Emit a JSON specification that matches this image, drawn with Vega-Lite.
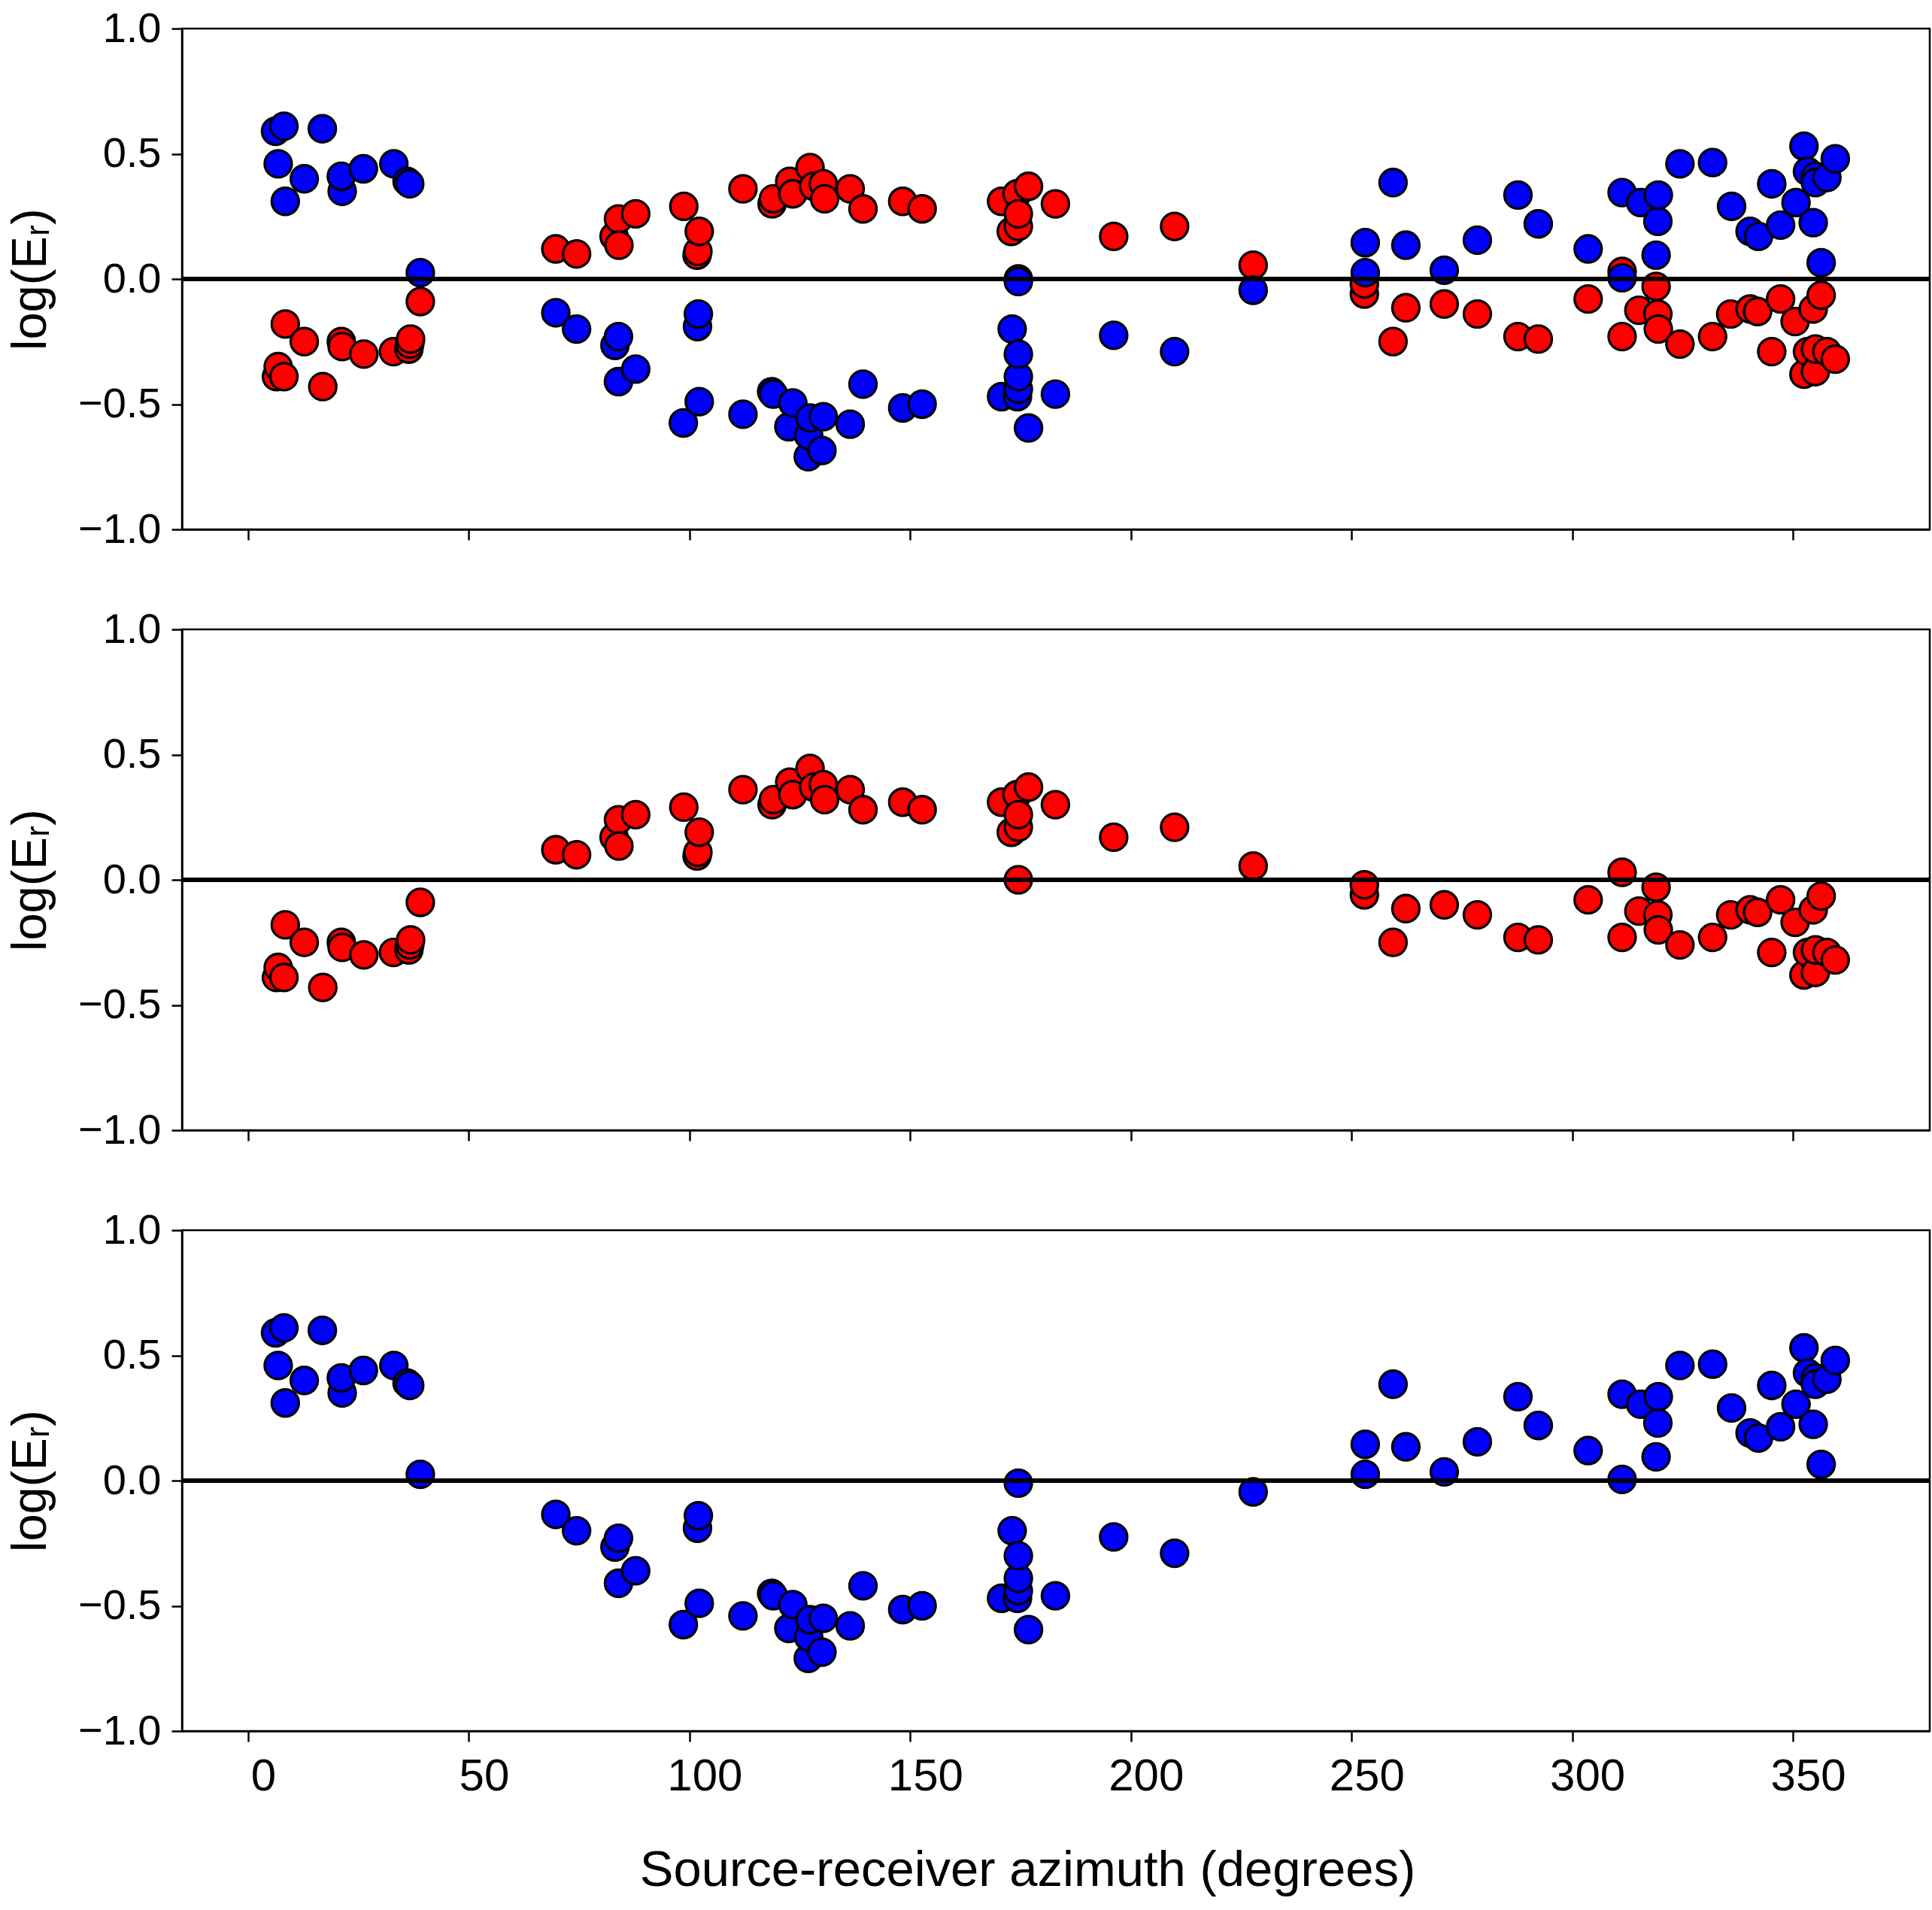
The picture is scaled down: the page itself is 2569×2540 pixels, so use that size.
{
  "$schema": "https://vega.github.io/schema/vega-lite/v6.json",
  "padding": {"left": 7, "top": 8, "right": 5, "bottom": 5},
  "background": "white",
  "spacing": 133,
  "bounds": "flush",
  "datasets": {
    "pts": [
      {"az": 6.4, "logER": -0.39, "series": "red"},
      {"az": 6.8, "logER": -0.35, "series": "red"},
      {"az": 8.1, "logER": -0.39, "series": "red"},
      {"az": 8.4, "logER": -0.18, "series": "red"},
      {"az": 12.7, "logER": -0.25, "series": "red"},
      {"az": 16.9, "logER": -0.43, "series": "red"},
      {"az": 21.1, "logER": -0.25, "series": "red"},
      {"az": 21.3, "logER": -0.27, "series": "red"},
      {"az": 26.2, "logER": -0.3, "series": "red"},
      {"az": 32.9, "logER": -0.29, "series": "red"},
      {"az": 36.4, "logER": -0.28, "series": "red"},
      {"az": 36.6, "logER": -0.26, "series": "red"},
      {"az": 36.8, "logER": -0.24, "series": "red"},
      {"az": 39.0, "logER": -0.09, "series": "red"},
      {"az": 69.7, "logER": 0.12, "series": "red"},
      {"az": 74.4, "logER": 0.1, "series": "red"},
      {"az": 82.9, "logER": 0.17, "series": "red"},
      {"az": 83.9, "logER": 0.24, "series": "red"},
      {"az": 84.0, "logER": 0.135, "series": "red"},
      {"az": 87.8, "logER": 0.26, "series": "red"},
      {"az": 98.7, "logER": 0.29, "series": "red"},
      {"az": 101.7, "logER": 0.095, "series": "red"},
      {"az": 101.9, "logER": 0.11, "series": "red"},
      {"az": 102.2, "logER": 0.19, "series": "red"},
      {"az": 112.1, "logER": 0.36, "series": "red"},
      {"az": 118.7, "logER": 0.3, "series": "red"},
      {"az": 119.0, "logER": 0.32, "series": "red"},
      {"az": 122.7, "logER": 0.39, "series": "red"},
      {"az": 123.4, "logER": 0.34, "series": "red"},
      {"az": 127.3, "logER": 0.445, "series": "red"},
      {"az": 128.1, "logER": 0.37, "series": "red"},
      {"az": 130.3, "logER": 0.38, "series": "red"},
      {"az": 130.6, "logER": 0.32, "series": "red"},
      {"az": 136.4, "logER": 0.36, "series": "red"},
      {"az": 139.3, "logER": 0.28, "series": "red"},
      {"az": 148.3, "logER": 0.31, "series": "red"},
      {"az": 152.7, "logER": 0.28, "series": "red"},
      {"az": 170.7, "logER": 0.31, "series": "red"},
      {"az": 172.9, "logER": 0.19, "series": "red"},
      {"az": 174.2, "logER": 0.34, "series": "red"},
      {"az": 174.5, "logER": 0.21, "series": "red"},
      {"az": 174.5, "logER": 0.26, "series": "red"},
      {"az": 174.5, "logER": 0.0, "series": "red"},
      {"az": 176.8, "logER": 0.37, "series": "red"},
      {"az": 182.9, "logER": 0.3, "series": "red"},
      {"az": 196.1, "logER": 0.17, "series": "red"},
      {"az": 209.9, "logER": 0.21, "series": "red"},
      {"az": 227.7, "logER": 0.055, "series": "red"},
      {"az": 252.9, "logER": -0.06, "series": "red"},
      {"az": 252.9, "logER": -0.02, "series": "red"},
      {"az": 259.4, "logER": -0.25, "series": "red"},
      {"az": 262.3, "logER": -0.115, "series": "red"},
      {"az": 271.0, "logER": -0.1, "series": "red"},
      {"az": 278.5, "logER": -0.14, "series": "red"},
      {"az": 287.7, "logER": -0.23, "series": "red"},
      {"az": 292.3, "logER": -0.24, "series": "red"},
      {"az": 303.6, "logER": -0.08, "series": "red"},
      {"az": 311.3, "logER": 0.03, "series": "red"},
      {"az": 311.3, "logER": -0.23, "series": "red"},
      {"az": 315.1, "logER": -0.125, "series": "red"},
      {"az": 319.0, "logER": -0.03, "series": "red"},
      {"az": 319.4, "logER": -0.14, "series": "red"},
      {"az": 319.5, "logER": -0.2, "series": "red"},
      {"az": 324.4, "logER": -0.26, "series": "red"},
      {"az": 331.8, "logER": -0.23, "series": "red"},
      {"az": 335.9, "logER": -0.14, "series": "red"},
      {"az": 340.3, "logER": -0.12, "series": "red"},
      {"az": 342.0, "logER": -0.13, "series": "red"},
      {"az": 345.2, "logER": -0.29, "series": "red"},
      {"az": 347.2, "logER": -0.08, "series": "red"},
      {"az": 350.5, "logER": -0.17, "series": "red"},
      {"az": 352.5, "logER": -0.38, "series": "red"},
      {"az": 353.3, "logER": -0.29, "series": "red"},
      {"az": 354.6, "logER": -0.12, "series": "red"},
      {"az": 355.1, "logER": -0.37, "series": "red"},
      {"az": 355.1, "logER": -0.28, "series": "red"},
      {"az": 356.4, "logER": -0.065, "series": "red"},
      {"az": 357.7, "logER": -0.29, "series": "red"},
      {"az": 359.6, "logER": -0.32, "series": "red"},
      {"az": 6.2, "logER": 0.59, "series": "blue"},
      {"az": 6.8, "logER": 0.46, "series": "blue"},
      {"az": 8.1, "logER": 0.61, "series": "blue"},
      {"az": 8.4, "logER": 0.31, "series": "blue"},
      {"az": 12.7, "logER": 0.4, "series": "blue"},
      {"az": 16.8, "logER": 0.6, "series": "blue"},
      {"az": 21.3, "logER": 0.35, "series": "blue"},
      {"az": 21.1, "logER": 0.41, "series": "blue"},
      {"az": 26.1, "logER": 0.44, "series": "blue"},
      {"az": 33.0, "logER": 0.46, "series": "blue"},
      {"az": 36.0, "logER": 0.39, "series": "blue"},
      {"az": 36.6, "logER": 0.38, "series": "blue"},
      {"az": 39.0, "logER": 0.025, "series": "blue"},
      {"az": 69.7, "logER": -0.135, "series": "blue"},
      {"az": 74.4, "logER": -0.2, "series": "blue"},
      {"az": 83.1, "logER": -0.265, "series": "blue"},
      {"az": 83.9, "logER": -0.23, "series": "blue"},
      {"az": 83.9, "logER": -0.41, "series": "blue"},
      {"az": 87.8, "logER": -0.36, "series": "blue"},
      {"az": 98.6, "logER": -0.575, "series": "blue"},
      {"az": 101.8, "logER": -0.19, "series": "blue"},
      {"az": 102.0, "logER": -0.14, "series": "blue"},
      {"az": 102.2, "logER": -0.49, "series": "blue"},
      {"az": 112.1, "logER": -0.54, "series": "blue"},
      {"az": 118.6, "logER": -0.45, "series": "blue"},
      {"az": 119.0, "logER": -0.46, "series": "blue"},
      {"az": 122.5, "logER": -0.59, "series": "blue"},
      {"az": 123.4, "logER": -0.495, "series": "blue"},
      {"az": 126.9, "logER": -0.71, "series": "blue"},
      {"az": 127.0, "logER": -0.625, "series": "blue"},
      {"az": 127.3, "logER": -0.555, "series": "blue"},
      {"az": 130.0, "logER": -0.685, "series": "blue"},
      {"az": 130.3, "logER": -0.55, "series": "blue"},
      {"az": 136.4, "logER": -0.58, "series": "blue"},
      {"az": 139.3, "logER": -0.42, "series": "blue"},
      {"az": 148.3, "logER": -0.515, "series": "blue"},
      {"az": 152.7, "logER": -0.5, "series": "blue"},
      {"az": 170.7, "logER": -0.47, "series": "blue"},
      {"az": 173.1, "logER": -0.2, "series": "blue"},
      {"az": 174.3, "logER": -0.47, "series": "blue"},
      {"az": 174.5, "logER": -0.44, "series": "blue"},
      {"az": 174.5, "logER": -0.39, "series": "blue"},
      {"az": 174.5, "logER": -0.3, "series": "blue"},
      {"az": 174.5, "logER": -0.01, "series": "blue"},
      {"az": 176.8, "logER": -0.595, "series": "blue"},
      {"az": 182.9, "logER": -0.46, "series": "blue"},
      {"az": 196.1, "logER": -0.225, "series": "blue"},
      {"az": 209.9, "logER": -0.29, "series": "blue"},
      {"az": 227.7, "logER": -0.045, "series": "blue"},
      {"az": 253.1, "logER": 0.145, "series": "blue"},
      {"az": 253.1, "logER": 0.025, "series": "blue"},
      {"az": 259.4, "logER": 0.385, "series": "blue"},
      {"az": 262.3, "logER": 0.135, "series": "blue"},
      {"az": 271.0, "logER": 0.035, "series": "blue"},
      {"az": 278.5, "logER": 0.155, "series": "blue"},
      {"az": 287.7, "logER": 0.335, "series": "blue"},
      {"az": 292.3, "logER": 0.22, "series": "blue"},
      {"az": 303.6, "logER": 0.12, "series": "blue"},
      {"az": 311.3, "logER": 0.005, "series": "blue"},
      {"az": 311.3, "logER": 0.345, "series": "blue"},
      {"az": 315.5, "logER": 0.305, "series": "blue"},
      {"az": 319.0, "logER": 0.095, "series": "blue"},
      {"az": 319.4, "logER": 0.23, "series": "blue"},
      {"az": 319.5, "logER": 0.335, "series": "blue"},
      {"az": 324.4, "logER": 0.46, "series": "blue"},
      {"az": 331.8, "logER": 0.465, "series": "blue"},
      {"az": 336.1, "logER": 0.29, "series": "blue"},
      {"az": 340.3, "logER": 0.19, "series": "blue"},
      {"az": 342.2, "logER": 0.17, "series": "blue"},
      {"az": 345.2, "logER": 0.38, "series": "blue"},
      {"az": 347.2, "logER": 0.215, "series": "blue"},
      {"az": 350.7, "logER": 0.305, "series": "blue"},
      {"az": 352.5, "logER": 0.53, "series": "blue"},
      {"az": 353.3, "logER": 0.43, "series": "blue"},
      {"az": 354.6, "logER": 0.225, "series": "blue"},
      {"az": 355.1, "logER": 0.41, "series": "blue"},
      {"az": 355.1, "logER": 0.385, "series": "blue"},
      {"az": 356.4, "logER": 0.065, "series": "blue"},
      {"az": 357.7, "logER": 0.405, "series": "blue"},
      {"az": 359.6, "logER": 0.48, "series": "blue"}
    ]
  },
  "vconcat": [
    {
      "width": 2324,
      "height": 666,
      "data": {"name": "pts"},
      "layer": [
        {
          "mark": {"type": "circle", "size": 1300, "stroke": "black", "strokeWidth": 3.3, "opacity": 1},
          "encoding": {
            "x": {"field": "az", "type": "quantitative", "scale": {"domain": [-15, 381], "nice": false, "zero": false},
              "axis": {"values": [0, 50, 100, 150, 200, 250, 300, 350], "labels": false, "title": null}},
            "y": {"field": "logER", "type": "quantitative", "scale": {"domain": [-1, 1], "nice": false},
              "axis": {"values": [-1, -0.5, 0, 0.5, 1], "format": ".1f", "title": "log(Eᵣ)"}},
            "fill": {"field": "series", "type": "nominal", "scale": {"domain": ["red", "blue"], "range": ["#ff0000", "#0000ff"]}, "legend": null}
          }
        },
        {
          "mark": {"type": "rule", "color": "black", "strokeWidth": 4.5},
          "encoding": {"y": {"datum": 0}}
        }
      ]
    },
    {
      "width": 2324,
      "height": 666,
      "data": {"name": "pts"},
      "transform": [{"filter": "datum.series === 'red'"}],
      "layer": [
        {
          "mark": {"type": "circle", "size": 1300, "stroke": "black", "strokeWidth": 3.3, "opacity": 1},
          "encoding": {
            "x": {"field": "az", "type": "quantitative", "scale": {"domain": [-15, 381], "nice": false, "zero": false},
              "axis": {"values": [0, 50, 100, 150, 200, 250, 300, 350], "labels": false, "title": null}},
            "y": {"field": "logER", "type": "quantitative", "scale": {"domain": [-1, 1], "nice": false},
              "axis": {"values": [-1, -0.5, 0, 0.5, 1], "format": ".1f", "title": "log(Eᵣ)"}},
            "fill": {"value": "#ff0000"}
          }
        },
        {
          "mark": {"type": "rule", "color": "black", "strokeWidth": 4.5},
          "encoding": {"y": {"datum": 0}}
        }
      ]
    },
    {
      "width": 2324,
      "height": 666,
      "data": {"name": "pts"},
      "transform": [{"filter": "datum.series === 'blue'"}],
      "layer": [
        {
          "mark": {"type": "circle", "size": 1300, "stroke": "black", "strokeWidth": 3.3, "opacity": 1},
          "encoding": {
            "x": {"field": "az", "type": "quantitative", "scale": {"domain": [-15, 381], "nice": false, "zero": false},
              "axis": {"values": [0, 50, 100, 150, 200, 250, 300, 350], "labelFontSize": 60, "labelPadding": 17, "labelOffset": 20,
                "title": "Source-receiver azimuth (degrees)", "titleFontSize": 67, "titlePadding": 62, "titleX": 1124}},
            "y": {"field": "logER", "type": "quantitative", "scale": {"domain": [-1, 1], "nice": false},
              "axis": {"values": [-1, -0.5, 0, 0.5, 1], "format": ".1f", "title": "log(Eᵣ)"}},
            "fill": {"value": "#0000ff"}
          }
        },
        {
          "mark": {"type": "rule", "color": "black", "strokeWidth": 4.5},
          "encoding": {"y": {"datum": 0}}
        }
      ]
    }
  ],
  "config": {
    "font": "Liberation Sans",
    "view": {"stroke": "black", "strokeWidth": 2.5},
    "axis": {
      "grid": false,
      "domainColor": "black",
      "domainWidth": 2.5,
      "tickColor": "black",
      "tickWidth": 2.5,
      "tickSize": 14,
      "labelColor": "black",
      "labelFontSize": 56,
      "labelPadding": 14,
      "titleColor": "black",
      "titleFontWeight": "normal",
      "titleFontSize": 65,
      "titlePadding": 29
    },
    "axisY": {"labelFlush": false, "labelOverlap": false},
    "axisX": {"labelFlush": false, "labelOverlap": false}
  }
}
